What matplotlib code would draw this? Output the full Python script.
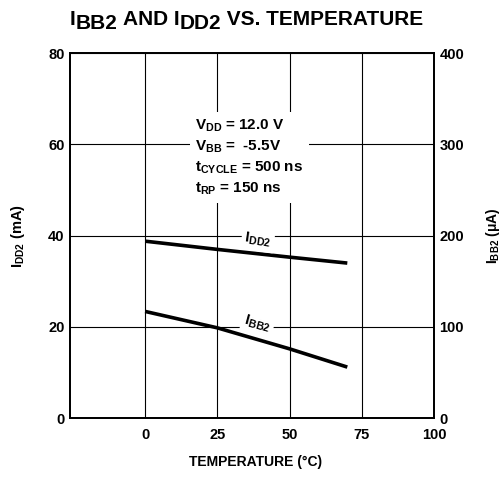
import matplotlib
matplotlib.use("Agg")
import matplotlib.pyplot as plt

plt.rcParams['font.family'] = ['Liberation Sans', 'DejaVu Sans']
plt.rcParams['font.weight'] = 'bold'
plt.rcParams['mathtext.default'] = 'regular'

# values
temperature = [0, 25, 50, 70]
idd2_ma = [38.8, 37.0, 35.3, 34.0]
ibb2_ua = [117, 99, 76, 56]

x_ticks = [0, 25, 50, 75, 100]
left_ticks = [0, 20, 40, 60, 80]
right_ticks = [0, 100, 200, 300, 400]

title_parts = [('I', 0), ('BB2', -3.5), (' AND I', 0), ('DD2', -3.5),
               (' VS. TEMPERATURE', 0)]


def chain_text(ax, x, y, parts, size):
    # pieces placed one after another; second value is a baseline shift in points
    first, shift = parts[0]
    t = ax.figure.text(x, y, first, fontsize=size, ha='left', va='bottom')
    prev = shift
    for s, shift in parts[1:]:
        t = ax.annotate(s, xy=(1, 0), xycoords=t, xytext=(0, shift - prev),
                        textcoords='offset points', fontsize=size,
                        ha='left', va='bottom', annotation_clip=False)
        prev = shift


fig = plt.figure(figsize=(5.04, 4.84), dpi=100)
ax = fig.add_axes([0.139, 0.136, 0.722, 0.754])
ax2 = ax.twinx()

ax.set_xlim(-26, 100)
ax.set_ylim(0, 80)
ax2.set_ylim(0, 400)
ax.set_xticks(x_ticks)
ax.set_yticks(left_ticks)
ax2.set_yticks(right_ticks)
ax.grid(True, color='black', lw=0.8)

for a in (ax, ax2):
    a.tick_params(length=0, labelsize=10.5)
    for s in a.spines.values():
        s.set_linewidth(1.3)
ax.tick_params(axis='x', pad=7)
ax.tick_params(axis='y', pad=4)
ax2.tick_params(axis='y', pad=4)

ax.plot(temperature, idd2_ma, color='black', lw=2.6, solid_capstyle='butt')
ax2.plot(temperature, ibb2_ua, color='black', lw=2.6, solid_capstyle='butt')

box = dict(facecolor='white', edgecolor='none', pad=2)
ax.text(39, 39, '$I_{DD2}$', fontsize=11, ha='center', va='center',
        rotation=-8, bbox=box)
ax.text(39, 20.8, '$I_{BB2}$', fontsize=11, ha='center', va='center',
        rotation=-15, bbox=box)

cond = ('$V_{DD}$ = 12.0 V\n$V_{BB}$ =  -5.5V\n'
        '$t_{CYCLE}$ = 500 ns\n$t_{RP}$ = 150 ns')
ax.text(17.3, 57.2, cond, fontsize=11, ha='left', va='center',
        linespacing=1.4, bbox=dict(facecolor='white', edgecolor='none', pad=4))

fig.text(0.036, 0.513, '$I_{DD2}$ (mA)', fontsize=10.5, rotation=90,
         ha='center', va='center')
fig.text(0.978, 0.513, '$I_{BB2}$ ($\\mu$A)', fontsize=10, rotation=90,
         ha='center', va='center')

fig.text(0.508, 0.045, 'TEMPERATURE (°C)', ha='center', va='center',
         fontsize=10)
chain_text(ax, 0.139, 0.941, title_parts, 15)

fig.savefig('out.png', dpi=100)
